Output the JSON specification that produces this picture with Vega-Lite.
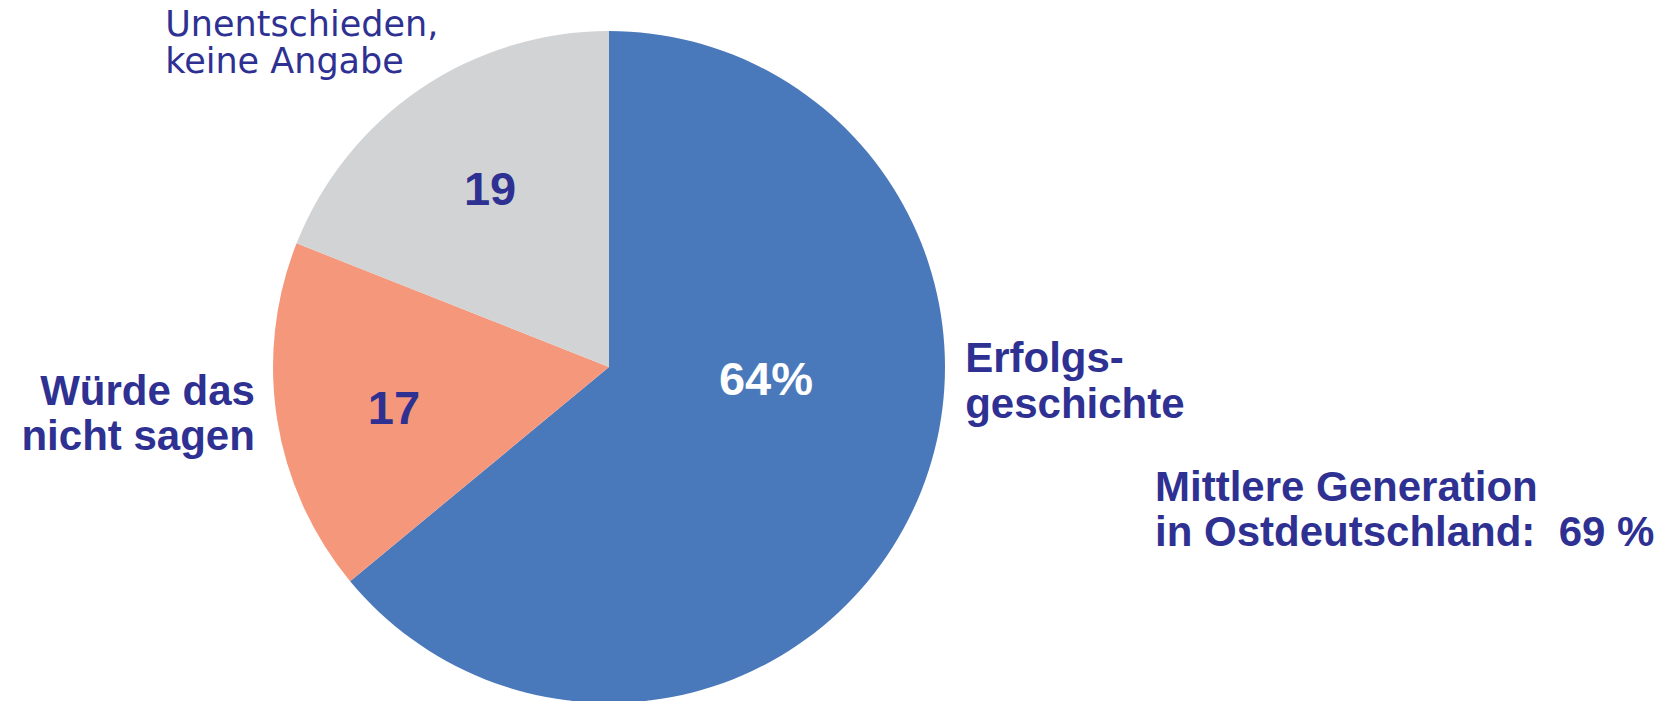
{
  "$schema": "https://vega.github.io/schema/vega-lite/v6.json",
  "autosize": "none",
  "width": 672,
  "height": 668,
  "padding": {"left": 273, "top": 33, "right": 723, "bottom": 0},
  "background": "white",
  "config": {"view": {"stroke": null}, "font": "Liberation Sans"},
  "datasets": {
    "slices": [
      {"category": "Erfolgsgeschichte", "value": 64, "order": 1},
      {"category": "Würde das nicht sagen", "value": 17, "order": 2},
      {"category": "Unentschieden, keine Angabe", "value": 19, "order": 3}
    ],
    "labels": [
      {"text": "64%", "group": "inWhite", "px": 0.467, "py": -0.084},
      {"text": "19", "group": "inBlue", "px": -0.354, "py": 0.485},
      {"text": "17", "group": "inBlue", "px": -0.640, "py": -0.171},
      {"text": "Würde das", "group": "left", "px": -1.054, "py": -0.114},
      {"text": "nicht sagen", "group": "left", "px": -1.054, "py": -0.249},
      {"text": "Erfolgs-", "group": "right", "px": 1.060, "py": -0.015},
      {"text": "geschichte", "group": "right", "px": 1.060, "py": -0.153},
      {"text": "Mittlere Generation", "group": "note", "px": 1.625, "py": -0.401},
      {"text": "in Ostdeutschland:\u00a0 69 %", "group": "note", "px": 1.625, "py": -0.536},
      {"text": "Unentschieden,", "group": "top", "px": -1.321, "py": 0.990},
      {"text": "keine Angabe", "group": "top", "px": -1.321, "py": 0.880}
    ]
  },
  "layer": [
    {
      "data": {"name": "slices"},
      "mark": {"type": "arc", "outerRadius": 336, "stroke": null},
      "encoding": {
        "theta": {"field": "value", "type": "quantitative", "stack": true},
        "order": {"field": "order", "type": "quantitative"},
        "color": {
          "field": "category",
          "type": "nominal",
          "scale": {
            "domain": ["Erfolgsgeschichte", "Würde das nicht sagen", "Unentschieden, keine Angabe"],
            "range": ["#4a79bb", "#f5977a", "#d1d3d5"]
          },
          "legend": null
        }
      }
    },
    {
      "data": {"name": "labels"},
      "transform": [{"filter": "datum.group === 'inWhite'"}],
      "mark": {"type": "text", "align": "center", "baseline": "alphabetic", "fontSize": 47, "fontWeight": "bold", "color": "white"},
      "encoding": {
        "x": {"field": "px", "type": "quantitative", "scale": {"domain": [-1, 1], "nice": false, "zero": false}, "axis": null},
        "y": {"field": "py", "type": "quantitative", "scale": {"domain": [-1, 1], "nice": false, "zero": false}, "axis": null},
        "text": {"field": "text"}
      }
    },
    {
      "data": {"name": "labels"},
      "transform": [{"filter": "datum.group === 'inBlue'"}],
      "mark": {"type": "text", "align": "center", "baseline": "alphabetic", "fontSize": 47, "fontWeight": "bold", "color": "#2e3192"},
      "encoding": {
        "x": {"field": "px", "type": "quantitative", "scale": {"domain": [-1, 1], "nice": false, "zero": false}, "axis": null},
        "y": {"field": "py", "type": "quantitative", "scale": {"domain": [-1, 1], "nice": false, "zero": false}, "axis": null},
        "text": {"field": "text"}
      }
    },
    {
      "data": {"name": "labels"},
      "transform": [{"filter": "datum.group === 'left'"}],
      "mark": {"type": "text", "align": "right", "baseline": "alphabetic", "fontSize": 42, "fontWeight": "bold", "color": "#2e3192"},
      "encoding": {
        "x": {"field": "px", "type": "quantitative", "scale": {"domain": [-1, 1], "nice": false, "zero": false}, "axis": null},
        "y": {"field": "py", "type": "quantitative", "scale": {"domain": [-1, 1], "nice": false, "zero": false}, "axis": null},
        "text": {"field": "text"}
      }
    },
    {
      "data": {"name": "labels"},
      "transform": [{"filter": "datum.group === 'right' || datum.group === 'note'"}],
      "mark": {"type": "text", "align": "left", "baseline": "alphabetic", "fontSize": 42, "fontWeight": "bold", "color": "#2e3192"},
      "encoding": {
        "x": {"field": "px", "type": "quantitative", "scale": {"domain": [-1, 1], "nice": false, "zero": false}, "axis": null},
        "y": {"field": "py", "type": "quantitative", "scale": {"domain": [-1, 1], "nice": false, "zero": false}, "axis": null},
        "text": {"field": "text"}
      }
    },
    {
      "data": {"name": "labels"},
      "transform": [{"filter": "datum.group === 'top'"}],
      "mark": {"type": "text", "align": "left", "baseline": "alphabetic", "fontSize": 35, "fontWeight": "normal", "font": "DejaVu Sans", "color": "#2e3192"},
      "encoding": {
        "x": {"field": "px", "type": "quantitative", "scale": {"domain": [-1, 1], "nice": false, "zero": false}, "axis": null},
        "y": {"field": "py", "type": "quantitative", "scale": {"domain": [-1, 1], "nice": false, "zero": false}, "axis": null},
        "text": {"field": "text"}
      }
    }
  ]
}
